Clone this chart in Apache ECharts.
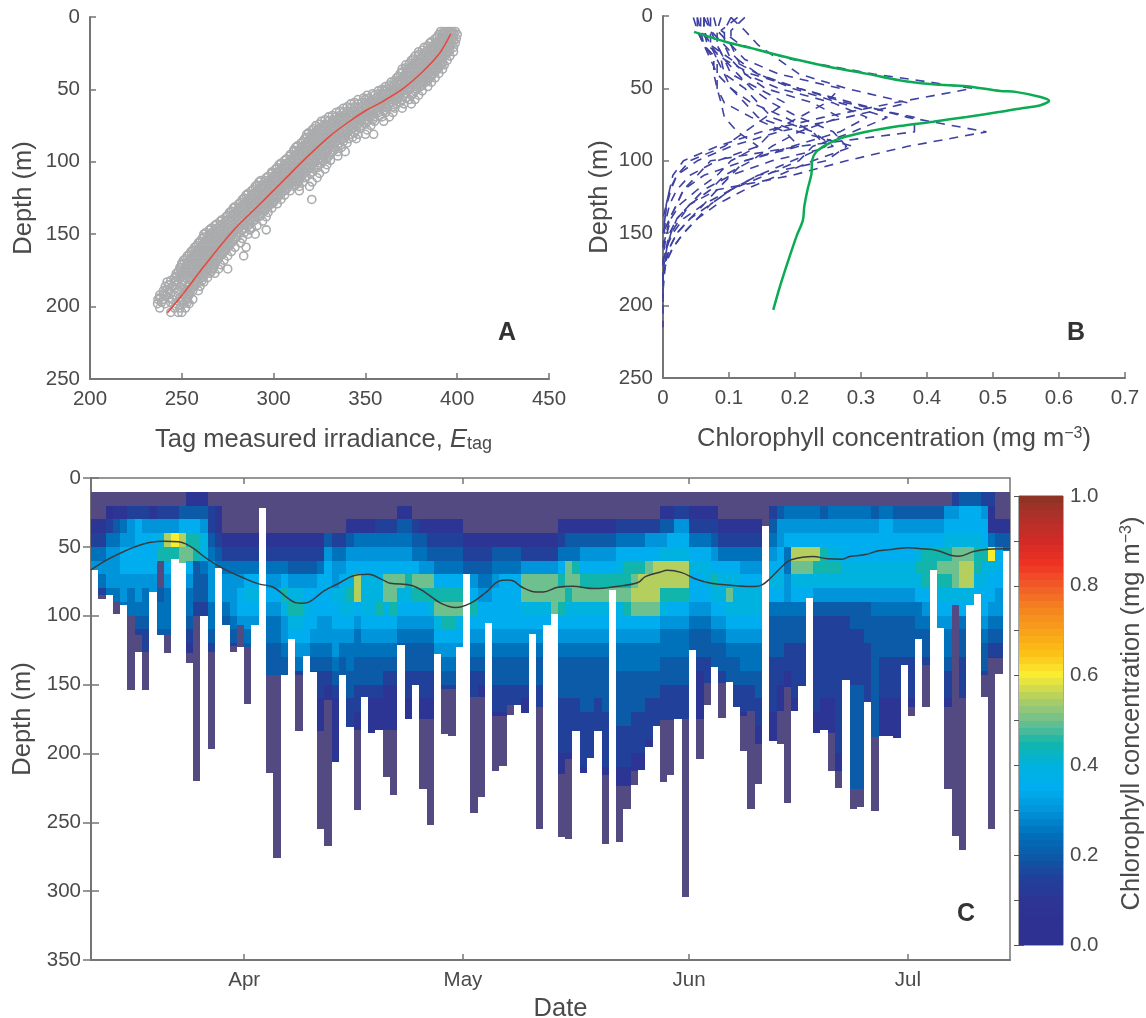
<!DOCTYPE html>
<html><head><meta charset="utf-8">
<style>html,body{margin:0;padding:0;background:#fff}#c{width:1146px;height:1018px}</style>
<script src="https://cdn.jsdelivr.net/npm/echarts@6/dist/echarts.min.js"></script>
</head><body><div id="c"></div>
<script>
// ---- Panel A: tag irradiance vs depth ----
const scatterDepths = [10,12,15,18,21,24,27,30,33,36,39,42,45,48,51,54,57,60,63,66,69,72,75,78,81,84,87,90,93,96,99,102,105,108,111,114,117,120,123,126,129,132,135,138,141,144,147,150,153,156,159,162,165,168,171,174,177,180,183,186,189,192,195,198,201,204];
const scatterRows = [
[391,393,395,397,399],[390,392.5,395,398,400],[388,391,394,397,399.5],[385,388,391,393.5,396,399],[382,386,389,392,395,398],
[379,383,386,389,392,395,398],[377,381,384,387,390,393,396],[375,378,382,385,388,391,394.5],[372,376,379,382,385,388,391,393],[370,373,377,380,383,386,389,392],
[369,372,375,378,381,384,387,390],[367,370,373,376,379,382,385,388],[364,367,370,374,377,380,383,386],[361,364,367,371,374,377,380,384],[357,360,364,367,370,373,377,381],
[351,355,359,362,365,368,371,375,379],[346,350,354,358,361,364,367,370,374,377],[342,346,350,354,357,360,363,367,371,375],[338,342,346,350,353,356,359,362,366,370],[334,338,342,345,348,351,354,357,361,365],
[330,334,337,340,343,346,349,352,355,359,363],[326,330,333,336,339,342,345,348,351,355,360],[323,327,330,333,336,339,342,345,348,353],[321,324,327,330,333,336,339,342,345,351],[318,321,324,327,330,333,336,339,342,346,350,354.5],
[317,320,323,326,329,332,335,338,341,345],[315,318,321,324,327,330,333,336,340],[312,315,318,321,324,327,330,333,337],[311,314,317,320,323,326,329,332,335,339],[309,312,315,318,321,324,327,330,335],
[306,309,312,315,318,321,324,327,331],[303,306,309,312,315,318,321,324,329],[301,304,307,310,313,316,319,322,328],[299,302,305,308,311,314,317,320,325],[296,299,302,305,308,311,314,317,323.7],
[292,295,298,301,304,307,310,313,316,321],[290,293,296,299,302,305,308,311,314,319.6],[288,291,294,297,300,303,306,309,314],[285,288,291,294,297,300,303,306],[283,286,289,292,295,298,301,304,320.8],
[281,284,287,290,293,296,299,302],[278,281,284,287,290,293,296,299],[276,279,282,285,288,291,294,297],[274,277,280,283,286,289,292,296],[271,274,277,280,283,286,289,294],
[268,271,274,277,280,283,286,291],[265,268,271,274,277,280,283,287,296],[262,265,268,271,274,277,280,286,290],[261,264,267,270,273,276,279,283],[259,262,265,268,271,274,277,282],
[257,260,263,266,269,272,275,279,285],[255,258,261,264,267,270,273,277],[253,256,259,262,265,268,271,275,283.7],[251,254,257,260,263,266,269,273],[250,253,256,259,262,265,268,271],
[249,252,255,258,261,264,267,270,275],[247,250,253,256,259,262,265,268],[246,249,252,255,258,261,264],[242,246,250,256,259,262],[241,245,249,254,257,260],
[240,243,248,253,256,259],[238,241,246,251,254],[237,240,245,250,253,256],[236.8,241,247,251,254],[238,246,249,252],[244,248,250]];
const scatterCoreDepths = [11,14,17,20,23,26,29,32,35,38,41,44,47,50,53,56,59,62,65,68,71,74,77,80,83,86,89,92,95,98,101,104,107,110,113,116,119,122,125,128,131,134,137,140,143,146,149,152,155,158,161,164,167,170,173,176,179,182,185,188,191,194,197];
const scatterCoreRows = [
[392,394,396,398],[389,392,395,398],[386,389,392,395,398],[384,387,390,393,396],[381,384,387,390,393,396],[379,382,385,388,391,394],[376,380,383,386,389,392],
[374,377,380,383,386,389,392],[372,375,378,381,384,387,390],[370,373,376,379,382,385,388],[368,371,374,377,380,383,386],[366,369,372,375,378,381,384],[363,366,369,372,375,378,381],
[359,362,365,368,371,374,378],[354,357,360,363,366,369,372,376],[349,352,356,359,362,365,368,372],[344,348,352,355,358,361,365,369],[340,344,348,351,354,357,361,365],[336,340,344,347,350,353,356,360],
[332,336,339,342,345,348,351,354,358],[328,332,335,338,341,344,347,350,354],[325,328,331,334,337,340,343,346,350],[322,325,328,331,334,337,340,343,347],[319,322,325,328,331,334,337,340,344],[318,321,324,327,330,333,336,339,343],
[316,319,322,325,328,331,334,338],[313,316,319,322,325,328,331,335],[311,314,317,320,323,326,329,333],[309,312,315,318,321,324,327,331],[307,310,313,316,319,322,325,329],[304,307,310,313,316,319,322,326],
[302,305,308,311,314,317,320,324],[299,302,305,308,311,314,317,321],[297,300,303,306,309,312,315,318],[293,296,299,302,305,308,311,314],[291,294,297,300,303,306,309,312],[289,292,295,298,301,304,307],
[286,289,292,295,298,301,304],[284,287,290,293,296,299,302],[282,285,288,291,294,297,300],[279,282,285,288,291,294,297],[277,280,283,286,289,292,295],[275,278,281,284,287,290,293],[272,275,278,281,284,287,290],
[269,272,275,278,281,284,287],[266,269,272,275,278,281,284,288],[263,266,269,272,275,278,281,284],[262,265,268,271,274,277,280],[260,263,266,269,272,275,278],[258,261,264,267,270,273,276],[256,259,262,265,268,271,274],
[254,257,260,263,266,269,272],[252,255,258,261,264,267,270],[250,253,256,259,262,265,268],[249,252,255,258,261,264,267],[248,251,254,257,260,263,266],[247,250,253,256,259,262],[244,247,251,255,258,261],
[243,247,250,254,257],[242,246,252,255],[240,244,251,254],[238,243,249,253],[239,244,250,253]];
const fitIrradiance = [242.2,250.4,262.2,277.7,292.3,305,317.7,330.5,341.4,350.5,359.6,370.5,381.4,390.5,396.5];
const fitDepth = [204.2,191.6,172,147.9,129.5,113.4,97.3,82.4,72,64.4,58.2,49.5,37.5,24.9,11.7];

// ---- Panel B: chlorophyll profiles ----
const profileDepths = [1,10,20,30,40,50,60,70,80,90,100,110,120,130,140,150,160,170,180,190,200,215];
const profile1 = [.113,.088,.118,.196,.319,.469,.35,.242,.149,.082,.031,.015,.01,.005,.003,0];
const profile2 = [.057,.057,.072,.103,.144,.206,.278,.381,.381,.206,.072,.052,.031,.021,.01,.005,0];
const profile3 = [.062,.062,.067,.093,.134,.206,.288,.371,.49,.371,.278,.196,.082,.041,.021,.01,.005,0];
const profile4 = [.103,.124,.144,.175,.206,.278,.371,.278,.175,.103,.052,.021,.01,.005,0];
const profile5 = [.067,.072,.093,.113,.124,.175,.258,.309,.268,.196,.124,.062,.031,.021,.01,0];
const profile6 = [.077,.082,.103,.124,.175,.268,.247,.206,.165,.144,.082,.041,.021,.01,.005,0];
const profile7 = [.124,.103,.103,.113,.144,.196,.268,.34,.288,.227,.206,.155,.103,.062,.031,.015,.005,0];
const profile8 = [.052,.057,.062,.082,.093,.103,.124,.144,.206,.288,.227,.175,.124,.082,.052,.031,.015,.005,0];
const profile9 = [.062,.072,.082,.093,.113,.134,.165,.206,.258,.278,.247,.144,.103,.072,.041,.021,.01,.003,0];
const profile10 = [.046,.052,.062,.072,.082,.103,.134,.185,.227,.247,.196,.144,.103,.072,.052,.031,.015,.004,.002,0];
const profile11 = [.072,.072,.072,.082,.082,.082,.093,.134,.185,.206,.124,.103,.082,.062,.041,.021,.01,.004,0];
const profile12 = [.052,.052,.062,.077,.077,.082,.088,.093,.113,.144,.103,.082,.052,.026,.012,.006,.002,0,0,0,0,0];
const profile13 = [.088,.082,.082,.093,.103,.144,.185,.155,.124,.093,.041,.021,.012,.006,.003,.002,0];
const profile14 = [.103,.093,.093,.103,.124,.155,.227,.268,.206,.165,.134,.093,.072,.041,.026,.012,.006,.003,0];
const profile15 = [.062,.062,.072,.088,.093,.124,.144,.165,.227,.258,.165,.103,.062,.041,.021,.012,.006,.002,0,0,0];
const profiles = [profile1,profile2,profile3,profile4,profile5,profile6,profile7,profile8,profile9,profile10,profile11,profile12,profile13,profile14,profile15];
const meanChl = [.047,.096,.132,.157,.207,.258,.308,.358,.409,.46,.511,.534,.572,.585,.572,.546,.511,.46,.409,.358,.308,.268,.247,.232,.226,.225,.219,.214,.212,.202,.19,.177,.167];
const meanDepth = [11,18,22,25,30.6,35.7,39.8,44.4,47.2,48.5,51.8,52.4,55.9,58.6,61.6,63.5,66.2,69.7,73,76,80,84.6,89,93.9,99.6,108.8,120,131.8,141,152.5,168.6,187,203];

// ---- Panel C: time-depth section. One string per day, one character per 10 m bin from 10 m;
// character = level in 0.05 mg m-3 steps (0-9,a,b,c); '.' = the dull purple "no signal" colour ----
const columnLevels = [
"..2356","..235653",".1356665",".2456665",".25677665",".36677655",".3777766543",".36777655433",".2677766",".3689..4554",
".36b9765554",".36c9",".47baa","2479a7655432","247994443","246885443",".33456665543",".22345","...2356654","...235666543",
"...2356776","...235787654","...2357876","","...23567655444","...23567655444","...23579866544","...23468987","...23468987653","...234678776",
"...23467776543","...235777665433222","...4677776654322","...35668776654322222","...35678876544","..2467898765544333","..2567bb7655443322","..2567888765443","..2567888765443222","..3567889765443222",
"..3567aa8765432222","..3567aa9765432222",".24567a87654",".2456798765443322","..3457a9765443","..2456a9765443322","..2346a9865443322","..234579a876","..234579a976543","..234579a976543",
"..234579a876","...234","...234679765433","...234567765432","...2345677","...24567776544332","...24577776544332","...24577776544332","...2457777654433","...236aa876544322",
"...236aa876","...236aa87654433","...236aa87","...236aaa","..23579a9765444333322","..245aa9876544433332","..2459aa8765444333","..24679a8765444433332","..24679a876544443333","..24679a8765444333",
"..24679a8765444433332","..24679a","..35789a87655444433322","..35799a97655444433322","..3579aba765544433322","..3579bba765544433322","..367abba7655443332","..367bbba76554433",".2468bb9865544333",".2478bb9765544333",
".3678bb9765544333",".3678bb9765544333",".23578776544",".2357877654432222",".2357887654433",".234679876544","..235788765443","..23578a876544","..23578887654433","..235678876554332",
"..23567887655433","..23567887655443322","",".345678754443333222",".466778754443322",".56755665443322",".567ba8754433332",".567ba875443333",".567ba87",".567b9864333333322",
".46799864333333222",".56789864333333222",".56789864333333333322",".5677886433333",".567788644333344444444",".567788644333344444444",".567788644433333",".46778865444444444",".57778865444333222",".57778865444333222",
".46778865444333222",".467788654443",".467788654443332",".4678987554",".467999765443",".46799",".4679a9876",".6789a9876554332","3678aaa87","4778abb875443332",
"4778abb87","47789987","36779887765443","3225c87765432","..24777665432","..245"];
const columnBottom = [67,88,85,99,92,154,126,154,83,114,127,59,62,134,220,100,197,65,107,126,123,164,107,22,214,276,143,117,184,129,141,255,267,206,143,181,241,159,185,183,217,230,121,175,150,226,252,128,186,187,123,70,243,232,105,213,209,172,165,171,113,255,107,99,261,262,184,214,203,184,266,81,264,240,223,212,195,180,221,216,175,304,125,204,165,137,174,148,166,198,240,222,35,191,193,236,169,151,87,185,183,213,225,147,240,239,163,242,187,187,189,136,173,117,166,67,109,226,260,270,92,84,159,255,142,53];
const columnFade = [67,85,85,90,92,100,114,126,83,114,114,59,62,127,100,100,126,65,107,122,107,123,107,0,143,143,143,117,143,129,141,184,161,206,143,181,183,159,185,183,183,183,121,175,150,175,175,128,153,153,123,70,159,159,105,173,173,165,165,171,113,166,107,99,215,204,184,214,203,184,216,81,224,224,213,212,195,180,176,176,175,175,125,175,149,137,149,148,166,173,169,193,0,191,169,152,169,151,87,185,183,185,213,147,226,226,163,188,187,187,189,136,166,117,136,67,109,166,92,160,92,84,143,131,131,53];
const lineDay = [0,2,4,6,8,10,12,13,14,16,18,21,23,25,27,28,29,30,32,34,36,38,40,41,44,46,48,50,52,54,56,57,58,59,61,62,64,66,69,72,75,76,78,79,81,83,85,88,91,92,93,95,96,99,101,103,104,106,108,110,112,114,116,118,119,121,123,126];
const lineDepth = [66.7,60,54.6,50,46.8,45.9,46.3,47.8,51,59,65.5,72.8,76.9,79.3,87.3,90.5,91,89.8,81.8,76.4,71,69.9,74,76.4,78,83.7,91,94,91,83.7,74.7,74,75,79,82.7,82.7,79.3,78.6,80.3,78.8,75.9,71.6,68.4,67,68.7,73.5,76.4,78,78.8,77.6,73.5,63,59.4,57,58.7,59,57,55.8,52.9,51.7,50.7,51.4,52.6,56.3,56.8,53.4,51.7,51.4];
const monthTickDays = [21,51,82,112];
const monthLabels = ['Apr','May','Jun','Jul'];

// ---- Colour scale ----
const colorStops = ['#2e3092','#2e3192','#2c3594','#21409a','#0b5ba8','#0072bc','#0095da','#00aeef','#00b2e0','#12b5ab','#6fc08f','#b5cf5f','#f9ed32','#fbc015','#f7a11a','#f58220','#f15a29','#ee3224','#d12a26','#b2302a','#8a3324'];
const noSignalColor = '#524a80';
const colorbarSteps = 64;
const GREY = '#757575', TXT = '#4a4a4a', FONT = 'Liberation Sans';

const heatData = [], noSignalData = [];
columnLevels.forEach((s, day) => {
  const fade = columnFade[day], bottom = columnBottom[day];
  let j = 0;
  for (let t = 10; t < fade; t += 10, j++) {
    const ch = s[Math.min(j, s.length - 1)], end = Math.min(t + 10, fade);
    if (ch === '.') noSignalData.push([day, t, end, 0]);
    else heatData.push([day, t, end, parseInt(ch, 16) * 0.05]);
  }
  if (bottom > fade) noSignalData.push([day, Math.max(10, fade), bottom, 0]);
});
const colorbarData = [];
for (let i = 0; i < colorbarSteps; i++) colorbarData.push([0, i / colorbarSteps, (i + 1) / colorbarSteps, (i + .5) / colorbarSteps]);
const scatterData = [];
scatterDepths.forEach((d, i) => scatterRows[i].forEach(e => scatterData.push([e, d])));
scatterCoreDepths.forEach((d, i) => scatterCoreRows[i].forEach(e => scatterData.push([e, d])));

function renderCell(params, api) {
  const a = api.coord([api.value(0), api.value(1)]);
  const b = api.coord([api.value(0) + 1, api.value(2)]);
  const x0 = Math.round(a[0]), x1 = Math.round(b[0]), y0 = Math.round(Math.min(a[1], b[1])), y1 = Math.round(Math.max(a[1], b[1]));
  return { type: 'rect', shape: { x: x0, y: y0, width: x1 - x0, height: y1 - y0 }, style: { fill: api.visual('color') } };
}

const tickStyle = { show: true, inside: true, length: 6, lineStyle: { color: GREY, width: 1.5 } };
const lineAxis = { show: true, onZero: false, lineStyle: { color: GREY, width: 2 } };
const labelStyle = { color: TXT, fontSize: 20.5, fontFamily: FONT, margin: 10 };
const NF = 25.5;
const nameStyle = {
  color: TXT, fontSize: NF, fontFamily: FONT,
  rich: {
    i: { color: TXT, fontSize: NF, fontFamily: FONT, fontStyle: 'italic' },
    sub: { color: TXT, fontSize: 18, fontFamily: FONT, verticalAlign: 'bottom', padding: [9, 0, 0, 0] },
    sup: { color: TXT, fontSize: 16, fontFamily: FONT, verticalAlign: 'top', padding: [0, 0, 9, 0] },
    n: { color: TXT, fontSize: NF, fontFamily: FONT }
  }
};
const nameAt = padding => Object.assign({}, nameStyle, { padding });
const depthAxis = (grid, max, gap, extra) => Object.assign({
  type: 'value', gridIndex: grid, min: 0, max, interval: 50, inverse: true, name: 'Depth (m)', nameLocation: 'middle', nameGap: gap,
  nameTextStyle: nameAt([0, 0, 0, 0]), axisLine: lineAxis, axisTick: tickStyle, axisLabel: labelStyle, splitLine: { show: false }
}, extra || {});

const option = {
  animation: false,
  backgroundColor: '#fff',
  textStyle: { fontFamily: FONT },
  grid: [
    { left: 90, top: 17, width: 459, height: 362, outerBoundsMode: 'none' },
    { left: 663, top: 16, width: 462, height: 362, outerBoundsMode: 'none' },
    { left: 91, top: 478, width: 919, height: 482, show: true, borderColor: GREY, borderWidth: 1.5, backgroundColor: 'transparent', outerBoundsMode: 'none' },
    { left: 1019, top: 496, width: 44, height: 449, show: true, borderColor: '#555', borderWidth: 1, backgroundColor: 'transparent', outerBoundsMode: 'none' }
  ],
  xAxis: [
    { type: 'value', gridIndex: 0, min: 200, max: 450, interval: 50, nameLocation: 'middle', nameGap: 47, name: 'Tag measured irradiance, {i|E}{sub|tag}', nameTextStyle: nameAt([0, 0, 0, 8]), axisLine: lineAxis, axisTick: tickStyle, axisLabel: labelStyle, splitLine: { show: false } },
    { type: 'value', gridIndex: 1, min: 0, max: 0.7, interval: 0.1, nameLocation: 'middle', nameGap: 48, name: '{n|Chlorophyll concentration (mg m}{sup|−3}{n|)}', nameTextStyle: nameAt([0, 0, 0, 0]), axisLine: lineAxis, axisTick: tickStyle, axisLabel: Object.assign({}, labelStyle, { formatter: v => v === 0 ? '0' : v.toFixed(1) }), splitLine: { show: false } },
    { type: 'value', gridIndex: 2, min: 0, max: 126, position: 'bottom', nameLocation: 'middle', nameGap: 36, name: 'Date', nameTextStyle: nameAt([0, 0, 0, 20]), axisLine: lineAxis,
      axisTick: Object.assign({}, tickStyle, { customValues: monthTickDays }),
      axisLabel: Object.assign({}, labelStyle, { customValues: monthTickDays, formatter: v => monthLabels[monthTickDays.indexOf(v)] }), splitLine: { show: false } },
    { type: 'value', gridIndex: 2, min: 0, max: 126, position: 'top', axisLine: { show: false }, axisTick: Object.assign({}, tickStyle, { customValues: monthTickDays }), axisLabel: { show: false }, splitLine: { show: false } },
    { type: 'value', gridIndex: 3, min: 0, max: 1, show: false }
  ],
  yAxis: [
    depthAxis(0, 250, 53),
    depthAxis(1, 250, 50),
    depthAxis(2, 350, 53, { axisTick: Object.assign({}, tickStyle, { length: 8 }) }),
    { type: 'value', gridIndex: 2, min: 0, max: 350, interval: 50, inverse: true, position: 'right', axisLine: { show: false }, axisTick: Object.assign({}, tickStyle, { length: 8 }), axisLabel: { show: false }, splitLine: { show: false } },
    { type: 'value', gridIndex: 3, min: 0, max: 1, interval: 0.1, position: 'right', name: '{n|Chlorophyll concentration (mg m}{sup|−3}{n|)}', nameLocation: 'middle', nameGap: 56, nameRotate: 90, nameTextStyle: nameAt([0, 0, 0, 14]),
      axisLine: { show: false }, axisTick: { show: true, inside: true, length: 5, lineStyle: { color: '#555', width: 1 } },
      axisLabel: Object.assign({}, labelStyle, { margin: 7, formatter: v => Math.round(v * 10) % 2 === 0 ? v.toFixed(1) : '' }), splitLine: { show: false } },
    { type: 'value', gridIndex: 3, min: 0, max: 1, interval: 0.1, position: 'left', axisLine: { show: false }, axisTick: { show: true, inside: true, length: 5, lineStyle: { color: '#555', width: 1 } }, axisLabel: { show: false }, splitLine: { show: false } }
  ],
  visualMap: [{
    show: false, type: 'continuous', min: 0, max: 1, dimension: 3, seriesIndex: [0, 1],
    inRange: { color: colorStops }
  }],
  graphic: [
    { type: 'text', left: 498, top: 321, style: { text: 'A', font: 'bold 25px "Liberation Sans"', fill: '#333' } },
    { type: 'text', left: 1067, top: 321, style: { text: 'B', font: 'bold 25px "Liberation Sans"', fill: '#333' } },
    { type: 'text', left: 957, top: 902, style: { text: 'C', font: 'bold 25px "Liberation Sans"', fill: '#333' } }
  ],
  series: [
    { type: 'custom', name: 'Chlorophyll section', xAxisIndex: 2, yAxisIndex: 2, renderItem: renderCell, data: heatData, dimensions: ['day', 'top', 'bottom', 'chl'], encode: { x: 0, y: [1, 2] }, silent: true },
    { type: 'custom', name: 'Colour scale', xAxisIndex: 4, yAxisIndex: 4, renderItem: renderCell, data: colorbarData, dimensions: ['x', 'lo', 'hi', 'chl'], encode: { y: [1, 2] }, silent: true },
    { type: 'custom', name: 'No signal', xAxisIndex: 2, yAxisIndex: 2, renderItem: renderCell, data: noSignalData, dimensions: ['day', 'top', 'bottom', 'chl'], encode: { x: 0, y: [1, 2] }, itemStyle: { color: noSignalColor }, silent: true },
    { type: 'line', name: 'Depth track', xAxisIndex: 2, yAxisIndex: 2, data: lineDay.map((d, i) => [d, lineDepth[i]]), smooth: 0.4, showSymbol: false, lineStyle: { color: '#3a3a3a', width: 1.5 }, z: 5, silent: true },
    { type: 'scatter', name: 'Irradiance samples', xAxisIndex: 0, yAxisIndex: 0, data: scatterData, symbol: 'circle', symbolSize: 8, itemStyle: { color: 'transparent', borderColor: '#aaabad', borderWidth: 1.6, opacity: 1 }, silent: true },
    { type: 'line', name: 'Fit', xAxisIndex: 0, yAxisIndex: 0, data: fitIrradiance.map((e, i) => [e, fitDepth[i]]), smooth: 0.3, showSymbol: false, lineStyle: { color: '#e5483c', width: 1.5 }, z: 5, silent: true },
    ...profiles.map((p, k) => ({ type: 'line', name: 'Profile ' + (k + 1), xAxisIndex: 1, yAxisIndex: 1, data: p.map((c, i) => [c, profileDepths[i]]), showSymbol: false, lineStyle: { color: '#3f42a0', width: 1.6, type: [9, 7] }, silent: true })),
    { type: 'line', name: 'Mean profile', xAxisIndex: 1, yAxisIndex: 1, data: meanChl.map((c, i) => [c, meanDepth[i]]), smooth: 0.3, showSymbol: false, lineStyle: { color: '#0bab54', width: 2.5 }, z: 5, silent: true }
  ]
};
const chart = echarts.init(document.getElementById('c'), null, { renderer: 'canvas' });
chart.setOption(option);
</script>
</body></html>
